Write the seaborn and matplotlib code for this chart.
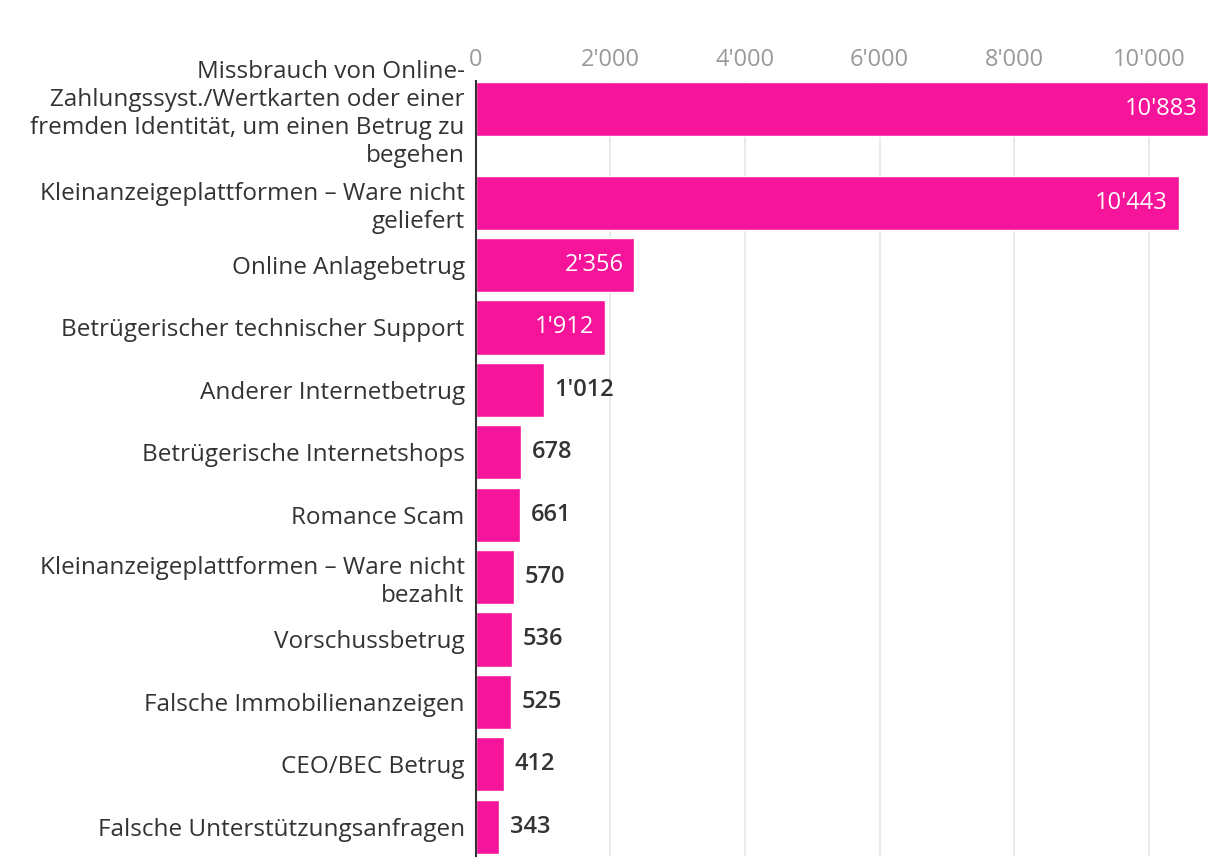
import matplotlib
matplotlib.use("Agg")
import matplotlib.pyplot as plt
import pandas as pd
import seaborn as sns

# Daten
kategorien = [
    "Missbrauch von Online-\nZahlungssyst./Wertkarten oder einer\nfremden Identität, um einen Betrug zu\nbegehen",
    "Kleinanzeigeplattformen – Ware nicht\ngeliefert",
    "Online Anlagebetrug",
    "Betrügerischer technischer Support",
    "Anderer Internetbetrug",
    "Betrügerische Internetshops",
    "Romance Scam",
    "Kleinanzeigeplattformen – Ware nicht\nbezahlt",
    "Vorschussbetrug",
    "Falsche Immobilienanzeigen",
    "CEO/BEC Betrug",
    "Falsche Unterstützungsanfragen",
]
anzahl = [10883, 10443, 2356, 1912, 1012, 678, 661, 570, 536, 525, 412, 343]
ticks = [0, 2000, 4000, 6000, 8000, 10000]

# Zeilenhöhe je Kategorie: lange Beschriftungen brauchen mehr Platz
zeilen = [k.count("\n") + 1 for k in kategorien]
slot = [max(1.0, z / 2) for z in zeilen]
pos = [0.0]
for i in range(1, len(slot)):
    pos.append(pos[-1] + (slot[i - 1] + slot[i]) / 2)

df = pd.DataFrame({"kategorie": kategorien, "anzahl": anzahl, "pos": pos})

def fmt(v):
    return f"{v:,}".replace(",", "'")

sns.set_theme(style="white")
plt.rcParams["font.family"] = ["Open Sans", "DejaVu Sans"]

fig, ax = plt.subplots(figsize=(12.2, 8.68), dpi=100)
fig.subplots_adjust(left=0.39, right=0.9934, top=0.9067, bottom=0.0138)

sns.barplot(data=df, x="anzahl", y="pos", orient="y", native_scale=True,
            color="#f5149a", saturation=1, width=0.87, ax=ax, zorder=3)

ax.set_xlim(0, 10936)
ax.set_ylim(pos[-1] + 0.47, pos[0] - 0.45)
ax.set_xticks(ticks)
ax.set_xticklabels([fmt(t) for t in ticks])
ax.set_yticks(pos)
ax.set_yticklabels(kategorien)
ax.xaxis.tick_top()
ax.tick_params(axis="x", length=0, labelsize=17, labelcolor="#999999", pad=6.5)
ax.tick_params(axis="y", length=0, labelsize=17.5, labelcolor="#333333", pad=8)
for lbl in ax.get_yticklabels():
    lbl.set_linespacing(1.22)
    lbl.set_fontweight("medium")
ax.grid(axis="x", color="#e6e6e6", linewidth=1.2, zorder=0)
ax.grid(axis="y", visible=False)
ax.set_xlabel("")
ax.set_ylabel("")
for s in ["top", "right", "bottom"]:
    ax.spines[s].set_visible(False)
ax.spines["left"].set_color("#333333")
ax.spines["left"].set_linewidth(1.5)
ax.spines["left"].set_zorder(4)

# Beschriftung der Balken
for p, v in zip(pos, anzahl):
    if v > 1500:
        ax.text(v - 160, p, fmt(v), ha="right", va="center", color="white",
                fontsize=17, fontweight="medium", zorder=5)
    else:
        ax.text(v + 160, p, fmt(v), ha="left", va="center", color="#333333",
                fontsize=17, fontweight="semibold", zorder=5)

fig.savefig("out.png", dpi=100)
